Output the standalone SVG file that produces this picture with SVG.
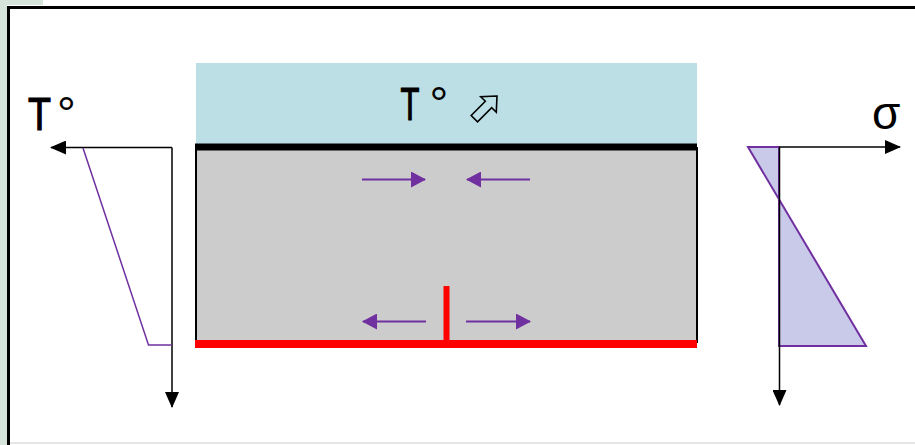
<svg xmlns="http://www.w3.org/2000/svg" width="915" height="445" viewBox="0 0 915 445">
<defs>
<style>
.lbl{font-family:"Liberation Sans",Arial,sans-serif;fill:#000}
.tt{stroke:#000;stroke-width:1.2}
.axis{stroke:#000;stroke-width:1.5;fill:none}
.parr{stroke:#7030a0;stroke-width:2;fill:none}
</style>
<marker id="ah" viewBox="0 0 16 14" refX="15" refY="7" markerWidth="16" markerHeight="14" markerUnits="userSpaceOnUse" orient="auto">
<path d="M0,0 L16,7 L0,14 Z" fill="#000"/>
</marker>
<marker id="ph" viewBox="0 0 15 16" refX="14" refY="8" markerWidth="15" markerHeight="16" markerUnits="userSpaceOnUse" orient="auto">
<path d="M0,0 L15,8 L0,16 Z" fill="#7030a0"/>
</marker>
</defs>
<rect x="0" y="0" width="915" height="445" fill="#ffffff"/>
<rect x="0" y="0" width="7" height="445" fill="#d7e4db"/>
<rect x="0" y="0" width="43" height="5" fill="#d7e4db"/>
<line x1="10" y1="443" x2="915" y2="443" stroke="#e6e6e6" stroke-width="2"/>
<path d="M8.5,445 V7.5 H915" stroke="#000" stroke-width="3" fill="none"/>

<g id="slab">
<rect x="196" y="63" width="501" height="81" fill="#bcdfe5"/>
<rect x="196" y="148" width="501" height="194" fill="#cccccc" stroke="#000" stroke-width="2"/>
<rect x="195" y="143.5" width="502" height="7" fill="#000"/>
<rect x="195" y="340" width="502" height="8" fill="#ff0000"/>
<rect x="443.5" y="286" width="6" height="56" fill="#ff0000"/>
<text class="lbl tt" font-size="47" text-anchor="middle" transform="translate(410,120) scale(0.66,1)">T</text>
<text class="lbl" font-size="47" text-anchor="middle" x="439" y="120">°</text>
<polygon points="0,0 -12,-11 -12,-4.5 -32,-4.5 -32,4.5 -12,4.5 -12,11" transform="translate(497,96) rotate(-45)" fill="none" stroke="#000" stroke-width="1.6" stroke-linejoin="miter"/>
</g>

<g id="connectors">
<line class="parr" x1="362" y1="179.5" x2="425" y2="179.5" marker-end="url(#ph)"/>
<line class="parr" x1="530" y1="179.5" x2="467" y2="179.5" marker-end="url(#ph)"/>
<line class="parr" x1="426" y1="321.5" x2="363" y2="321.5" marker-end="url(#ph)"/>
<line class="parr" x1="466" y1="321.5" x2="530" y2="321.5" marker-end="url(#ph)"/>
</g>

<g id="temp-profile">
<line class="axis" x1="172" y1="147.5" x2="51" y2="147.5" marker-end="url(#ah)"/>
<line class="axis" x1="172" y1="147.5" x2="172" y2="407" marker-end="url(#ah)"/>
<polyline points="83,148 148.5,345 172,345" fill="none" stroke="#7030a0" stroke-width="1.5"/>
<text class="lbl tt" font-size="47" text-anchor="middle" transform="translate(39.5,130) scale(0.8,1)">T</text>
<text class="lbl" font-size="47" text-anchor="middle" x="66.5" y="130">°</text>
</g>

<g id="stress-profile">
<polygon points="748,147 779,147 779,346 866,346" fill="#c9c9ea" stroke="#7030a0" stroke-width="2" stroke-linejoin="miter"/>
<line class="axis" x1="779.5" y1="147" x2="900" y2="147" marker-end="url(#ah)"/>
<line class="axis" x1="779.5" y1="147" x2="779.5" y2="405" marker-end="url(#ah)"/>
<text class="lbl" font-size="46" x="872" y="129">σ</text>
</g>
</svg>
